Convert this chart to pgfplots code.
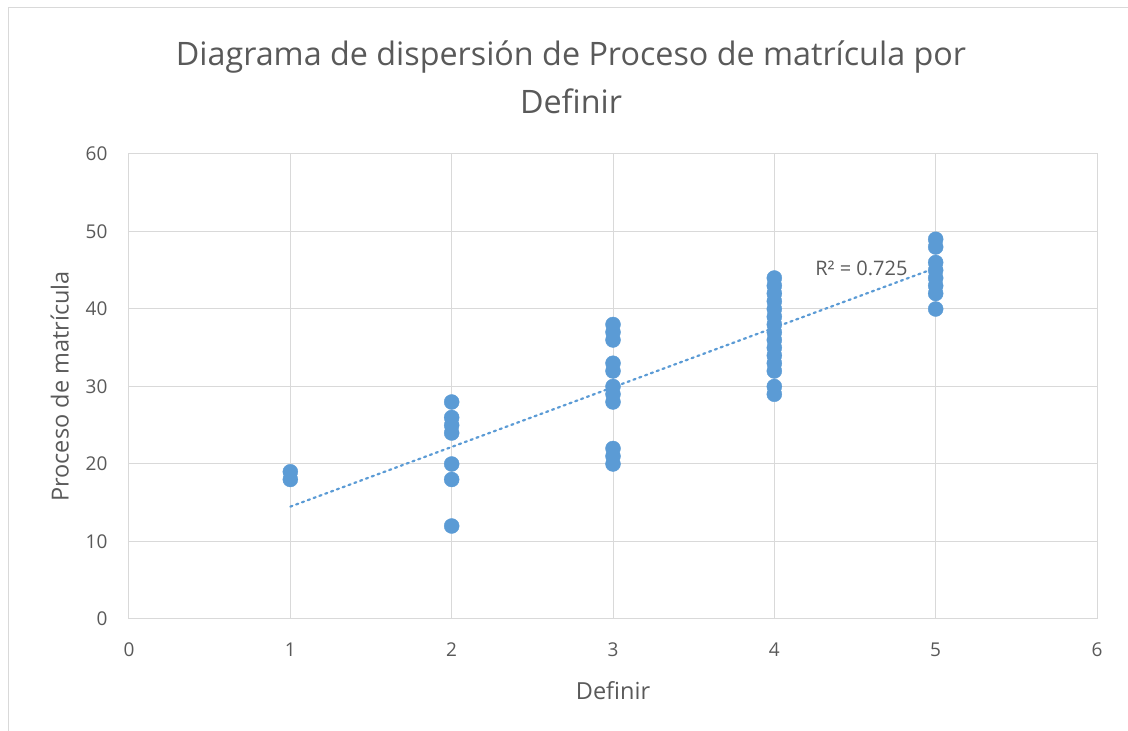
\documentclass[border=0pt]{standalone}
\usepackage{pgfplots}
\pgfplotsset{compat=1.18}
\usepackage{fontspec}
\setmainfont{Open Sans}
\definecolor{ptblue}{HTML}{5B9BD5}
\definecolor{gridgray}{HTML}{D9D9D9}
\definecolor{txtgray}{HTML}{595959}
\begin{document}
\begin{tikzpicture}[x=1pt,y=1pt]
\useasboundingbox (0,0) rectangle (1128,731);
\draw[gridgray,line width=1pt] (8,0) -- (8,723) -- (1128,723);
\node[txtgray,font=\fontsize{32.3}{38}\selectfont] at (571,674) {Diagrama de dispersión de Proceso de matrícula por};
\node[txtgray,font=\fontsize{32.3}{38}\selectfont] at (571,630) {Definir};
\begin{axis}[
  at={(129pt,112pt)}, anchor=south west,
  scale only axis, width=968pt, height=465pt,
  xmin=0, xmax=6, ymin=0, ymax=60,
  xtick={0,...,6}, ytick={0,10,...,60},
  grid=major,
  grid style={gridgray,line width=1pt},
  axis line style={gridgray,line width=1pt},
  major tick length=0pt,
  tick label style={txtgray,font=\fontsize{19}{22}\selectfont},
  /pgf/number format/assume math mode=true,
  xticklabel style={yshift=-20pt},
  yticklabel style={xshift=-18pt},
  xlabel={Definir}, ylabel={Proceso de matrícula},
  label style={txtgray,font=\fontsize{23.5}{28}\selectfont},
  xlabel style={yshift=-18pt},
  ylabel style={yshift=10pt},
  clip=false,
]
\addplot[only marks, mark=*, mark size=7.5pt, mark options={fill=ptblue,draw=ptblue}] coordinates {
(1,18)(1,19)
(2,12)(2,18)(2,20)(2,24)(2,25)(2,26)(2,28)
(3,20)(3,21)(3,22)(3,28)(3,29)(3,30)(3,32)(3,33)(3,36)(3,37)(3,38)
(4,29)(4,30)(4,32)(4,33)(4,34)(4,35)(4,36)(4,37)(4,38)(4,39)(4,40)(4,41)(4,42)(4,43)(4,44)
(5,40)(5,42)(5,43)(5,44)(5,45)(5,46)(5,48)(5,49)
};
\addplot[ptblue, line width=2.2pt, dash pattern=on 2.2pt off 4pt, line cap=round] coordinates {(1,14.5)(5,45.3)};
\node[txtgray,font=\fontsize{20}{22}\selectfont] at (axis cs:4.54,45.3) {R² = 0.725};
\end{axis}
\end{tikzpicture}
\end{document}
